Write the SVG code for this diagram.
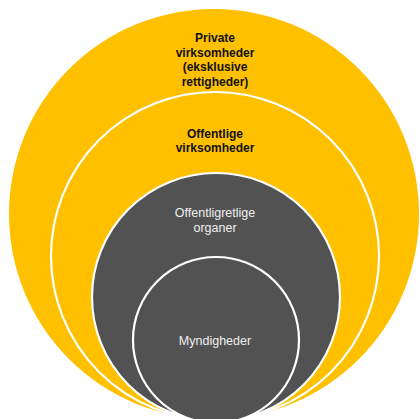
<svg xmlns="http://www.w3.org/2000/svg" width="420" height="419" viewBox="0 0 420 419">
  <style>
    .yel { fill: #FFC000; }
    .ring { stroke: #FFFFFF; stroke-width: 2.2; }
    .dark { fill: #525252; }
    .tb { font-family: "Liberation Sans", Arial, sans-serif; font-size: 12px; font-weight: bold; fill: #111111; text-anchor: middle; }
    .tw { font-family: "Liberation Sans", Arial, sans-serif; font-size: 12.5px; fill: #F0F0F0; text-anchor: middle; }
  </style>
  <rect width="420" height="419" fill="#FFFFFF"/>
  <g id="private">
    <circle class="yel" cx="214" cy="214" r="205"/>
    <text class="tb" x="215" y="42">Private</text>
    <text class="tb" x="215" y="56.5">virksomheder</text>
    <text class="tb" x="215" y="71">(eksklusive</text>
    <text class="tb" x="215" y="85.5">rettigheder)</text>
  </g>
  <g id="offentlige">
    <circle class="yel ring" cx="215" cy="256" r="164"/>
    <text class="tb" x="215" y="138">Offentlige</text>
    <text class="tb" x="215" y="152">virksomheder</text>
  </g>
  <g id="offentligretlige">
    <circle class="dark ring" cx="216" cy="297" r="124"/>
    <text class="tw" x="215" y="217">Offentligretlige</text>
    <text class="tw" x="215" y="232">organer</text>
  </g>
  <g id="myndigheder">
    <circle class="dark ring" cx="216" cy="340" r="83"/>
    <text class="tw" x="215" y="345">Myndigheder</text>
  </g>
  <g id="connectors"></g>
</svg>
